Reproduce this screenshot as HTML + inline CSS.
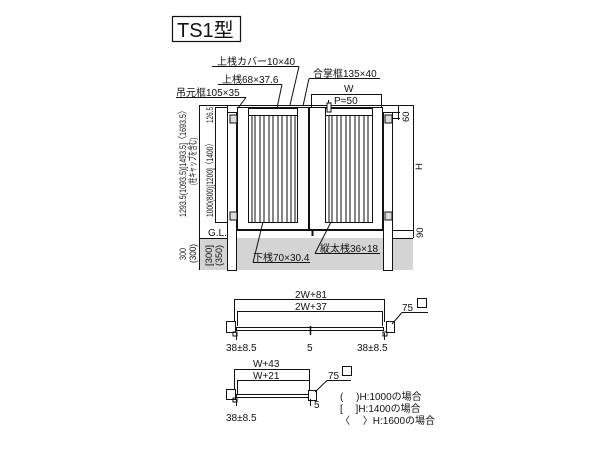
<!DOCTYPE html>
<html><head><meta charset="utf-8"><style>
html,body{margin:0;padding:0;background:#fff;}
svg{display:block;}
text{font-family:"Liberation Sans","Noto Sans CJK JP",sans-serif;fill:#111;}
</style></head><body>
<svg width="600" height="450" viewBox="0 0 600 450" xmlns="http://www.w3.org/2000/svg">
<g stroke="#111" stroke-width="1" fill="none">
<rect x="172.5" y="16.5" width="68" height="25" stroke-width="1.2"/>
</g>
<text x="177" y="37" font-size="20">TS1型</text>

<rect x="228" y="238" width="185" height="32" fill="#d4d4d4"/>
<rect x="200" y="238" width="28" height="32" fill="#d4d4d4"/>

<g stroke="#111" stroke-width="1" fill="none">
<line x1="199.5" y1="105" x2="199.5" y2="270"/>
<line x1="199.5" y1="105.5" x2="413" y2="105.5"/>
<line x1="199.5" y1="238.5" x2="227" y2="238.5"/>
<line x1="215.5" y1="107" x2="215.5" y2="223"/>
<line x1="215" y1="107.5" x2="228" y2="107.5"/>
<line x1="215" y1="222.5" x2="228" y2="222.5"/>
<line x1="227.5" y1="105" x2="227.5" y2="270"/>
<rect x="227.5" y="112.5" width="9" height="158" fill="#fff"/>
<rect x="383.5" y="112.5" width="9" height="158" fill="#fff"/>
<rect x="230" y="115" width="7" height="8" fill="#ddd"/>
<rect x="230" y="212" width="7" height="8" fill="#ddd"/>
<rect x="385" y="115" width="7" height="8" fill="#ddd"/>
<rect x="385" y="212" width="7" height="8" fill="#ddd"/>
<rect x="237.5" y="107.5" width="71" height="122" fill="#fff"/>
<rect x="248.5" y="108.5" width="49" height="114"/>
<line x1="248" y1="115.5" x2="298" y2="115.5"/>
<rect x="309.5" y="107.5" width="73" height="122" fill="#fff"/>
<rect x="325.5" y="108.5" width="47" height="114"/>
<line x1="325" y1="115.5" x2="373" y2="115.5"/>
<line x1="237" y1="230.5" x2="383" y2="230.5"/>
<line x1="393" y1="230.5" x2="413" y2="230.5"/>
<line x1="393" y1="238.5" x2="413" y2="238.5"/>
<line x1="413.5" y1="105" x2="413.5" y2="238"/>
<line x1="393" y1="112.5" x2="400" y2="112.5"/>
<line x1="393" y1="118.5" x2="400" y2="118.5"/>
<line x1="398.5" y1="106" x2="398.5" y2="120"/>
<line x1="312.5" y1="229" x2="312.5" y2="236" stroke-width="2"/>
<line x1="311" y1="94.5" x2="382" y2="94.5"/>
<line x1="311.5" y1="94" x2="311.5" y2="107"/>
<line x1="381.5" y1="94" x2="381.5" y2="107"/>
<line x1="328.5" y1="100" x2="328.5" y2="112"/>
<rect x="327" y="103" width="4" height="9" fill="#fff"/>
<line x1="212" y1="66.5" x2="299" y2="66.5"/>
<line x1="299" y1="66.5" x2="290" y2="105"/>
<line x1="218" y1="84.5" x2="282" y2="84.5"/>
<line x1="282" y1="84.5" x2="277" y2="108"/>
<line x1="176" y1="97.5" x2="246" y2="97.5"/>
<line x1="246" y1="97.5" x2="238" y2="108"/>
<line x1="309" y1="78.5" x2="380" y2="78.5"/>
<line x1="309" y1="78.5" x2="303" y2="106"/>
<line x1="253" y1="262.5" x2="310" y2="262.5"/>
<line x1="253" y1="262.5" x2="263" y2="222"/>
<line x1="315" y1="253.5" x2="380" y2="253.5"/>
<line x1="315" y1="253.5" x2="331" y2="222"/>
</g>
<g stroke="#222" stroke-width="1.1">
<line x1="252" y1="116" x2="252" y2="222"/><line x1="255" y1="116" x2="255" y2="222"/>
<line x1="260" y1="116" x2="260" y2="222"/><line x1="264" y1="116" x2="264" y2="222"/>
<line x1="269" y1="116" x2="269" y2="222"/><line x1="273" y1="116" x2="273" y2="222"/>
<line x1="278" y1="116" x2="278" y2="222"/><line x1="282" y1="116" x2="282" y2="222"/>
<line x1="287" y1="116" x2="287" y2="222"/><line x1="291" y1="116" x2="291" y2="222"/>
<line x1="295" y1="116" x2="295" y2="222"/>
<line x1="329" y1="116" x2="329" y2="222"/><line x1="332" y1="116" x2="332" y2="222"/>
<line x1="337" y1="116" x2="337" y2="222"/><line x1="341" y1="116" x2="341" y2="222"/>
<line x1="346" y1="116" x2="346" y2="222"/><line x1="350" y1="116" x2="350" y2="222"/>
<line x1="355" y1="116" x2="355" y2="222"/><line x1="359" y1="116" x2="359" y2="222"/>
<line x1="364" y1="116" x2="364" y2="222"/><line x1="368" y1="116" x2="368" y2="222"/>
</g>
<g font-size="10">
<text x="217" y="65">上桟カバー10×40</text>
<text x="222" y="83">上桟68×37.6</text>
<text x="176" y="96">吊元框105×35</text>
<text x="313" y="77">合掌框135×40</text>
<text x="344" y="92">W</text>
<text x="334" y="104">P=50</text>
<text x="253" y="261">下桟70×30.4</text>
<text x="320" y="252">縦太桟36×18</text>
<text x="208" y="236">G.L.</text>
</g>
<g font-size="9.5">
<text transform="translate(186,217) rotate(-90)" textLength="110" lengthAdjust="spacingAndGlyphs">1293.5(1093.5)[1493.5]〈1693.5〉</text>
<text transform="translate(196,185) rotate(-90)" textLength="47" lengthAdjust="spacingAndGlyphs">(柱キャップを含む)</text>
<text transform="translate(213,217) rotate(-90)" textLength="77" lengthAdjust="spacingAndGlyphs">1000(800)[1200]〈1400〉</text>
<text transform="translate(213,123) rotate(-90)" textLength="16" lengthAdjust="spacingAndGlyphs">126.5</text>
<text transform="translate(212,266) rotate(-90)" textLength="21" lengthAdjust="spacingAndGlyphs">[300]</text>
<text transform="translate(222,266) rotate(-90)" textLength="21" lengthAdjust="spacingAndGlyphs">(350)</text>
<text transform="translate(186,260) rotate(-90)" textLength="12" lengthAdjust="spacingAndGlyphs">300</text>
<text transform="translate(196,263) rotate(-90)" textLength="19" lengthAdjust="spacingAndGlyphs">(300)</text>
<text transform="translate(409,122) rotate(-90)">60</text>
<text transform="translate(423,238) rotate(-90)">90</text>
<text transform="translate(422,170) rotate(-90)">H</text>
</g>

<g stroke="#111" stroke-width="1" fill="none">
<line x1="234.5" y1="299.5" x2="385" y2="299.5"/>
<line x1="234.5" y1="299" x2="234.5" y2="322"/>
<line x1="384.5" y1="299" x2="384.5" y2="322"/>
<line x1="237.5" y1="311.5" x2="383" y2="311.5"/>
<line x1="237.5" y1="311" x2="237.5" y2="326"/>
<line x1="382.5" y1="311" x2="382.5" y2="326"/>
<rect x="236.5" y="327.5" width="147" height="3"/>
<line x1="310.5" y1="326" x2="310.5" y2="335" stroke-width="1.5"/>
<rect x="226.5" y="321.5" width="9" height="11" fill="#fff"/>
<rect x="386.5" y="321.5" width="8" height="11" fill="#fff"/>
<rect x="233" y="332" width="4" height="4"/>
<rect x="383" y="332" width="4" height="4"/>
<line x1="236.5" y1="333" x2="236.5" y2="340"/>
<line x1="384.5" y1="333" x2="384.5" y2="340"/>
<line x1="402" y1="312.5" x2="428" y2="312.5"/>
<line x1="402" y1="312.5" x2="392" y2="324"/>
<rect x="417.5" y="298.5" width="9" height="9"/>
<line x1="234.5" y1="369.5" x2="310" y2="369.5"/>
<line x1="234.5" y1="369" x2="234.5" y2="390"/>
<line x1="309.5" y1="369" x2="309.5" y2="390"/>
<line x1="237.5" y1="380.5" x2="309" y2="380.5"/>
<line x1="237.5" y1="380" x2="237.5" y2="394"/>
<rect x="236.5" y="394.5" width="72" height="3"/>
<rect x="226.5" y="389.5" width="9" height="10" fill="#fff"/>
<rect x="308.5" y="390.5" width="8" height="10" fill="#fff"/>
<rect x="233" y="398" width="4" height="4"/>
<line x1="236.5" y1="399" x2="236.5" y2="406"/>
<line x1="310.5" y1="399" x2="310.5" y2="406"/>
<line x1="327" y1="380.5" x2="351" y2="380.5"/>
<line x1="327" y1="380.5" x2="315" y2="392"/>
<rect x="342.5" y="366.5" width="9" height="9"/>
</g>
<g font-size="10">
<text x="295" y="298">2W+81</text>
<text x="295" y="310">2W+37</text>
<text x="226" y="351">38±8.5</text>
<text x="307" y="351">5</text>
<text x="357" y="351">38±8.5</text>
<text x="402" y="311">75</text>
<text x="253" y="367">W+43</text>
<text x="253" y="379">W+21</text>
<text x="328" y="379">75</text>
<text x="314" y="408">5</text>
<text x="226" y="421">38±8.5</text>
<text x="340" y="400">(　 )H:1000の場合</text>
<text x="340" y="412">[　 ]H:1400の場合</text>
<text x="340" y="424">〈　 〉H:1600の場合</text>
</g>
</svg>
</body></html>
